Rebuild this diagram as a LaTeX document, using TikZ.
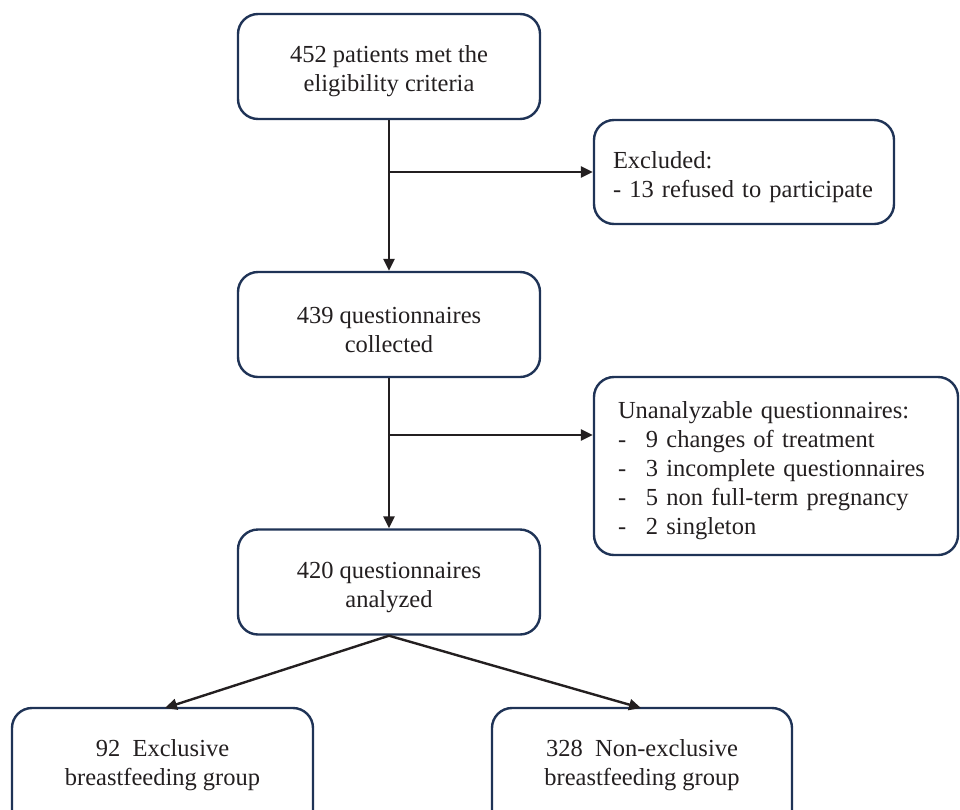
\documentclass[tikz,border=0pt]{standalone}
\usepackage{fontspec}
\setmainfont{Liberation Serif}
\usetikzlibrary{arrows.meta}
\definecolor{navy}{HTML}{1F3356}
\definecolor{ink}{HTML}{231F20}
\newcommand\topstrut{\rule{0pt}{27pt}}
\newcommand\botstrut{\rule[-37pt]{0pt}{0pt}}
\begin{document}
\begin{tikzpicture}[x=1pt,y=-1pt,
  box/.style={draw=navy, line width=2.4pt, rounded corners=20pt, align=center,
    font=\fontsize{24.5}{29}\selectfont, inner sep=0pt, text=ink},
  arr/.style={draw=ink, line width=2.4pt, -{Triangle[length=12pt,width=11pt]}}]
\useasboundingbox (0,0) rectangle (960,809);
\clip (0,0) rectangle (960,809);
\node[box, minimum width=302pt, minimum height=105pt] (a) at (389,66.5) {\topstrut452 patients met the\\eligibility criteria};
\node[box, minimum width=300pt, minimum height=104pt, align=left, text width=262pt, inner xsep=19pt] (exc) at (744,172) {\topstrut Excluded:\\- 13 refused to participate};
\node[box, minimum width=302pt, minimum height=105pt] (b) at (389,324.5) {\topstrut439 questionnaires\\collected};
\node[box, minimum width=364pt, minimum height=178pt, align=left, text width=316pt, inner xsep=24pt] (u) at (776,466) {\topstrut Unanalyzable questionnaires:\\
\makebox[28pt][l]{-}9 changes of treatment\\
\makebox[28pt][l]{-}3 incomplete questionnaires\\
\makebox[28pt][l]{-}5 non full-term pregnancy\\
\makebox[28pt][l]{-}2 singleton};
\node[box, minimum width=302pt, minimum height=105pt] (c) at (389,582) {\topstrut420 questionnaires\\analyzed};
\node[box, minimum width=301pt, minimum height=136pt] (d) at (162.5,776) {\topstrut92\ \ Exclusive\\breastfeeding group\botstrut};
\node[box, minimum width=300pt, minimum height=136pt] (e) at (642,776) {\topstrut328\ \ Non-exclusive\\breastfeeding group\botstrut};
\coordinate (j1) at (389,172);
\coordinate (j2) at (389,435);
\draw[arr] (a.south) -- (b.north);
\draw[arr] (j1) -- (exc.west);
\draw[arr] (b.south) -- (c.north);
\draw[arr] (j2) -- (j2 -| u.west);
\draw[arr] (c.south) -- (165,708);
\draw[arr] (c.south) -- (641,708);
\end{tikzpicture}
\end{document}
